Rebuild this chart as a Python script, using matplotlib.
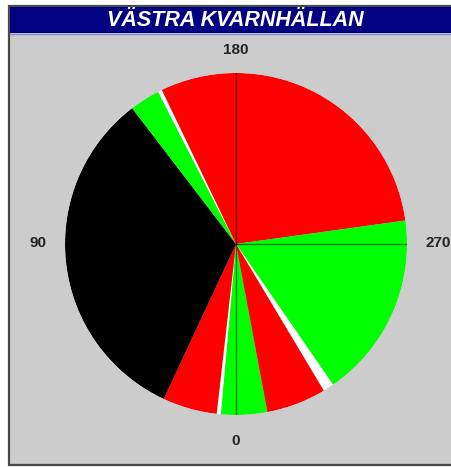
import numpy as np
import matplotlib
matplotlib.use('Agg')
import matplotlib.pyplot as plt
from matplotlib.patches import Rectangle
from matplotlib.lines import Line2D

# Sektorer (grader, 0 = nedåt, medurs)
sector_start = [349.4, 5.1, 6.5, 25.0, 142.6, 152.9, 154.3, 262.1, 325.4, 329.1]
sector_end = [5.1, 6.5, 25.0, 142.6, 152.9, 154.3, 262.1, 325.4, 329.1, 349.4]
sector_colors = ['#00ff00', '#ffffff', '#ff0000', '#000000', '#00ff00',
                 '#ffffff', '#ff0000', '#00ff00', '#ffffff', '#ff0000']
axis_angles = [0, 90, 180, 270]
axis_labels = ['0', '90', '180', '270']
title = 'VÄSTRA KVARNHÄLLAN'

W, H = 452, 467
fig = plt.figure(figsize=(W / 100, H / 100), dpi=100, facecolor='white')


def fx(x):
    return x / W


def fy(y):
    return 1 - y / H


# ram och bakgrund
fig.add_artist(Rectangle((fx(8.5), fy(465)), fx(490) - fx(8.5), fy(5.5) - fy(465),
                         transform=fig.transFigure, facecolor='#cccccc',
                         edgecolor='#4a4a4a', lw=1.6, zorder=0, clip_on=False))
fig.add_artist(Rectangle((fx(10), fy(33)), fx(490) - fx(10), fy(7) - fy(33),
                         transform=fig.transFigure, facecolor='#000080',
                         edgecolor='none', zorder=1, clip_on=False))
fig.add_artist(Line2D([fx(10), fx(490)], [fy(33.5), fy(33.5)],
                      transform=fig.transFigure, color='#8888cc', lw=1, zorder=1))
fig.text(fx(235), fy(20), title, color='white', fontsize=15.5, fontweight='bold',
         fontstyle='italic', family='Liberation Sans', ha='center', va='center')

# polärdiagram
cx, cy, r = 236, 244, 171
ax = fig.add_axes([fx(cx - r), fy(cy + r), (2 * r) / W, (2 * r) / H], projection='polar')
ax.set_theta_zero_location('S')
ax.set_theta_direction(-1)
ax.patch.set_alpha(0)

starts = np.array(sector_start)
widths = (np.array(sector_end) - starts) % 360
ax.bar(np.radians(starts), 1, width=np.radians(widths), bottom=0, align='edge',
       color=sector_colors, edgecolor='none', linewidth=0, antialiased=True)

for a in axis_angles:
    ax.plot([np.radians(a), np.radians(a)], [0, 1], color='black', lw=0.9, alpha=0.55)

ax.set_ylim(0, 1)
ax.set_xticks([])
ax.set_yticks([])
ax.grid(False)
ax.spines['polar'].set_visible(False)

# vinkeletiketter
label_pos = {'0': (236, 441), '90': (38, 243), '180': (236, 50), '270': (426, 243)}
for lab in axis_labels:
    x, y = label_pos[lab]
    ha = 'left' if lab == '270' else 'center'
    fig.text(fx(x), fy(y), lab, fontsize=11, fontweight='bold', color='#222222',
             family='Liberation Sans', ha=ha, va='center')

fig.savefig('out.png', dpi=100, facecolor='white')
